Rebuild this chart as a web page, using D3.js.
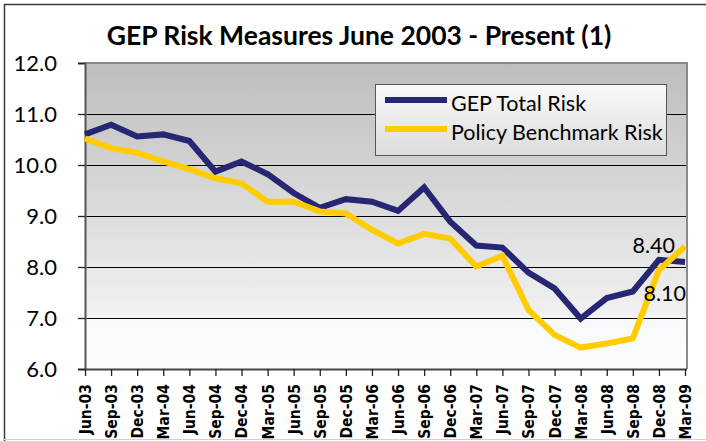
<!DOCTYPE html>
<html><head><meta charset="utf-8">
<script src="https://cdn.jsdelivr.net/npm/d3@7"></script>
<style>
html,body{margin:0;padding:0;background:#fff;}
svg{display:block;}
</style></head>
<body>
<script>
const categories = ["Jun-03","Sep-03","Dec-03","Mar-04","Jun-04","Sep-04","Dec-04","Mar-05","Jun-05","Sep-05","Dec-05","Mar-06","Jun-06","Sep-06","Dec-06","Mar-07","Jun-07","Sep-07","Dec-07","Mar-08","Jun-08","Sep-08","Dec-08","Mar-09"];
const gepTotalRisk = [10.60,10.79,10.56,10.60,10.47,9.87,10.07,9.82,9.45,9.16,9.33,9.28,9.10,9.56,8.89,8.42,8.38,7.89,7.58,6.99,7.39,7.52,8.14,8.10];
const policyBenchmarkRisk = [10.52,10.33,10.24,10.07,9.92,9.74,9.64,9.28,9.28,9.09,9.05,8.73,8.46,8.65,8.56,8.01,8.22,7.16,6.67,6.42,6.50,6.60,7.94,8.40];
const yTicks = [6,7,8,9,10,11,12];
const seriesNames = ["GEP Total Risk","Policy Benchmark Risk"];
const seriesColors = ["#262673","#FFCC00"];
const endLabels = ["8.10","8.40"];

const W = 706, H = 441;
const pL = 85, pR = 687, pT = 63, pB = 369;
const svg = d3.select("body").append("svg").attr("width", W).attr("height", H);

const defs = svg.append("defs");
const grad = defs.append("linearGradient").attr("id","bg").attr("x1",0).attr("y1",0).attr("x2",0).attr("y2",1);
grad.append("stop").attr("offset","0%").attr("stop-color","#bdbdbd");
grad.append("stop").attr("offset","82.5%").attr("stop-color","#f1f1f1");
grad.append("stop").attr("offset","83.5%").attr("stop-color","#f7f9fb");
grad.append("stop").attr("offset","100%").attr("stop-color","#fbfcfe");
const lgrad = defs.append("linearGradient").attr("id","lg").attr("x1",0).attr("y1",0).attr("x2",0).attr("y2",1);
lgrad.append("stop").attr("offset","0%").attr("stop-color","#fafafa");
lgrad.append("stop").attr("offset","100%").attr("stop-color","#dcdcdc");

// outer frame
svg.append("path").attr("d",`M4.5,${H} L4.5,4.5 L${W},4.5`).attr("fill","none").attr("stroke","#3a3a3a").attr("stroke-width",1.5);
svg.append("line").attr("x1",4).attr("x2",W).attr("y1",439.5).attr("y2",439.5).attr("stroke","#cfcfcf").attr("stroke-width",1);

// title
svg.append("text").attr("x",359).attr("y",45).attr("text-anchor","middle")
  .attr("font-family","Lato, 'Open Sans', sans-serif").attr("font-weight","bold").attr("font-size",26.5)
  .attr("fill","#000").text("GEP Risk Measures June 2003 - Present (1)");

const x = d3.scalePoint().domain(categories).range([pL, 685]);
const y = d3.scaleLinear().domain([6,12]).range([pB, pT]);

// plot background
svg.append("rect").attr("x",pL).attr("y",pT).attr("width",pR-pL).attr("height",pB-pT).attr("fill","url(#bg)");

// gridlines
svg.append("g").selectAll("line").data(yTicks.filter(d=>d>6 && d<12)).join("line")
  .attr("x1",pL).attr("x2",pR).attr("y1",d=>Math.round(y(d))+0.5).attr("y2",d=>Math.round(y(d))+0.5)
  .attr("stroke","#000").attr("stroke-width",1);

// plot border (top/right)
svg.append("path").attr("d",`M${pL},${pT} L${pR},${pT} L${pR},${pB}`).attr("fill","none").attr("stroke","#8a8a8a").attr("stroke-width",2);

// y axis
const yAxis = svg.append("g").attr("transform",`translate(${pL},0)`)
  .call(d3.axisLeft(y).tickValues(yTicks).tickFormat(d3.format(".1f")).tickSize(7).tickPadding(21));
yAxis.select(".domain").attr("stroke","#555").attr("stroke-width",2);
yAxis.selectAll(".tick line").attr("stroke","#222").attr("stroke-width",1.3);
yAxis.selectAll("text").attr("font-family","Lato, 'Open Sans', sans-serif").attr("font-size",22).attr("fill","#000");

// x axis
const xAxis = svg.append("g").attr("transform",`translate(0,${pB})`)
  .call(d3.axisBottom(x).tickSize(7).tickSizeOuter(0));
xAxis.select(".domain").attr("stroke","#444").attr("stroke-width",2).attr("d",`M${pL},0.5H${pR}`);
xAxis.selectAll(".tick line").attr("stroke","#222").attr("stroke-width",1.3);
xAxis.selectAll("text")
  .attr("font-family","'DejaVu Sans Condensed','DejaVu Sans',sans-serif").attr("font-stretch","condensed")
  .attr("font-weight","bold").attr("font-size",15.5).attr("fill","#000")
  .attr("text-anchor","end").attr("dy","0.35em").attr("dx",0)
  .attr("transform","translate(0,9) rotate(-90)").attr("x",-6).attr("y",0);

// lines
const line = d3.line().x((d,i)=>x(categories[i])).y(d=>y(d));
const seriesData = [gepTotalRisk, policyBenchmarkRisk];
svg.append("g").selectAll("path").data(seriesData).join("path")
  .attr("d",line).attr("fill","none").attr("stroke",(d,i)=>seriesColors[i])
  .attr("stroke-width",6).attr("stroke-linejoin","miter").attr("stroke-miterlimit",3);

// end labels
svg.append("text").attr("x",675).attr("y",253).attr("text-anchor","end")
  .attr("font-family","Lato, 'Open Sans', sans-serif").attr("font-size",21.5).attr("fill","#000").text(endLabels[1]);
svg.append("text").attr("x",686).attr("y",301).attr("text-anchor","end")
  .attr("font-family","Lato, 'Open Sans', sans-serif").attr("font-size",21.5).attr("fill","#000").text(endLabels[0]);

// legend
const lg = svg.append("g");
lg.append("rect").attr("x",375.5).attr("y",84.5).attr("width",291).attr("height",71).attr("fill","url(#lg)").attr("stroke","#555").attr("stroke-width",1);
seriesNames.forEach((name,i)=>{
  const yy = [100,129][i];
  lg.append("line").attr("x1",385).attr("x2",447).attr("y1",yy).attr("y2",yy).attr("stroke",seriesColors[i]).attr("stroke-width",6);
  lg.append("text").attr("x",451).attr("y",[111,140][i]).attr("font-family","Lato, 'Open Sans', sans-serif").attr("font-size",21.5).attr("fill","#000").text(name);
});
</script>
</body></html>
